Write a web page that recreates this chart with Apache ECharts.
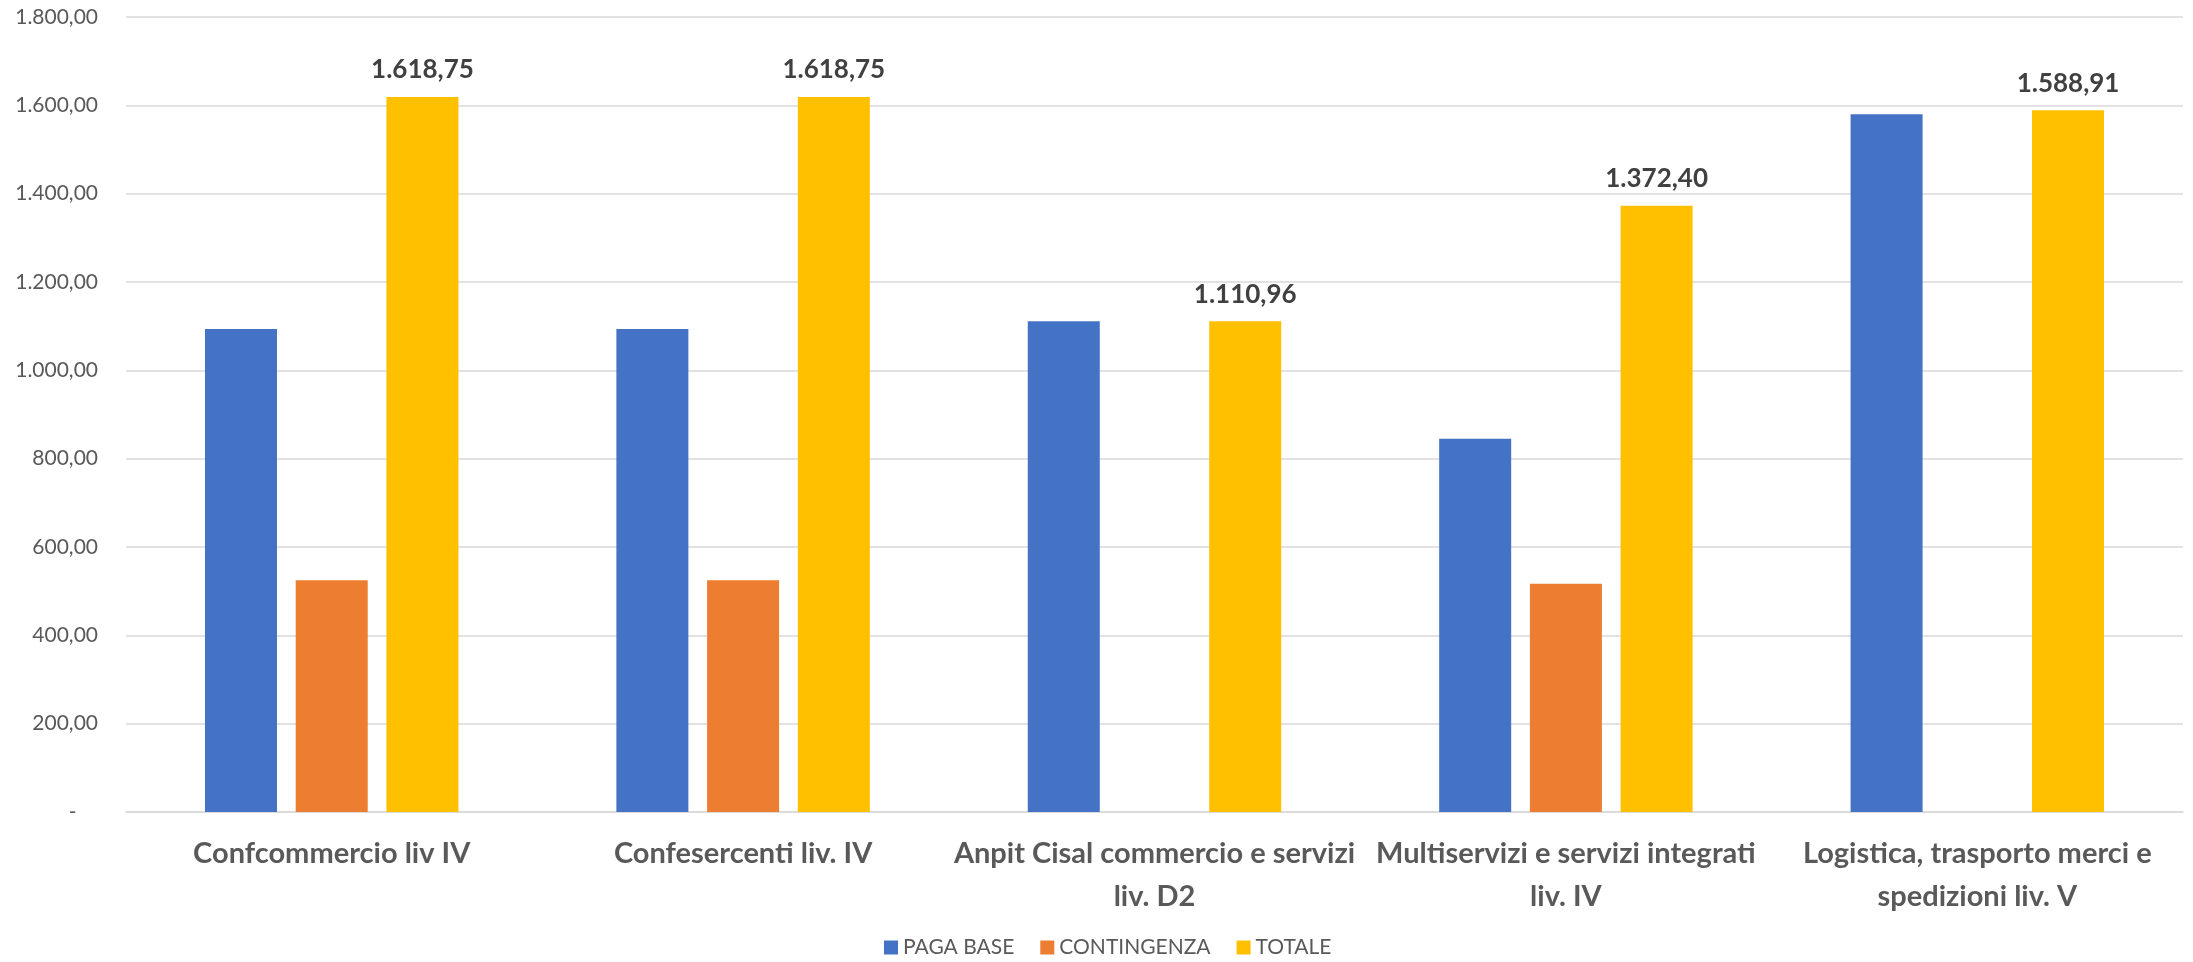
<!DOCTYPE html>
<html>
<head>
<meta charset="utf-8">
<script src="https://cdn.jsdelivr.net/npm/echarts@6/dist/echarts.min.js"></script>
<style>
html,body{margin:0;padding:0;background:#fff;}
#chart{width:2193px;height:962px;}
</style>
</head>
<body>
<div id="chart"></div>
<script>
const categories = [
  'Confcommercio liv IV',
  'Confesercenti liv. IV',
  'Anpit Cisal commercio e servizi\nliv. D2',
  'Multiservizi e servizi integrati\nliv. IV',
  'Logistica, trasporto merci e\nspedizioni liv. V'
];
const seriesNames = ['PAGA BASE', 'CONTINGENZA', 'TOTALE'];
const pagaBase = [1093.81, 1093.81, 1110.96, 845.0, 1580.0];
const contingenza = [524.94, 524.94, 0, 517.0, 0];
const totale = [1618.75, 1618.75, 1110.96, 1372.40, 1588.91];
const yTicks = { min: 0, max: 1800, interval: 200 };

function fmtIt(v) {
  const neg = v < 0;
  v = Math.abs(v);
  let s = v.toFixed(2);
  let [ip, dp] = s.split('.');
  ip = ip.replace(/\B(?=(\d{3})+(?!\d))/g, '.');
  return (neg ? '-' : '') + ip + ',' + dp;
}

const chart = echarts.init(document.getElementById('chart'), null, { renderer: 'canvas' });
const FONT = 'Lato';
chart.setOption({
  animation: false,
  backgroundColor: '#ffffff',
  textStyle: { fontFamily: FONT },
  grid: { left: 126, right: 10, top: 17, bottom: 150, containLabel: false },
  legend: {
    data: seriesNames,
    top: 937,
    left: 884,
    padding: 0,
    itemWidth: 14,
    itemHeight: 14,
    itemGap: 26,
    icon: 'rect',
    textStyle: { color: '#595959', fontSize: 21, fontFamily: FONT }
  },
  xAxis: {
    type: 'category',
    data: categories,
    axisLine: { show: true, lineStyle: { color: '#d9d9d9', width: 1.5 } },
    axisTick: { show: false },
    axisLabel: {
      color: '#595959',
      fontSize: 29,
      fontWeight: 'bold',
      fontFamily: FONT,
      margin: 20,
      lineHeight: 43,
      interval: 0
    }
  },
  yAxis: {
    type: 'value',
    min: yTicks.min,
    max: yTicks.max,
    interval: yTicks.interval,
    axisLine: { show: false },
    axisTick: { show: false },
    splitLine: { lineStyle: { color: '#d9d9d9', width: 1.5 } },
    axisLabel: {
      color: '#595959',
      fontSize: 21,
      fontFamily: FONT,
      margin: 28,
      formatter: function (v) { return v === 0 ? '-    ' : fmtIt(v); }
    }
  },
  series: [
    {
      name: seriesNames[0], type: 'bar', data: pagaBase,
      barWidth: 72, barGap: '26%',
      itemStyle: { color: '#4472C4' }
    },
    {
      name: seriesNames[1], type: 'bar', data: contingenza,
      barWidth: 72, barGap: '26%',
      itemStyle: { color: '#ED7D31' }
    },
    {
      name: seriesNames[2], type: 'bar', data: totale,
      barWidth: 72, barGap: '26%',
      itemStyle: { color: '#FFC000' },
      label: {
        show: true,
        position: 'top',
        distance: 14,
        color: '#404040',
        fontSize: 26,
        fontWeight: 'bold',
        fontFamily: FONT,
        formatter: function (p) { return fmtIt(p.value); }
      }
    }
  ]
});
</script>
</body>
</html>
